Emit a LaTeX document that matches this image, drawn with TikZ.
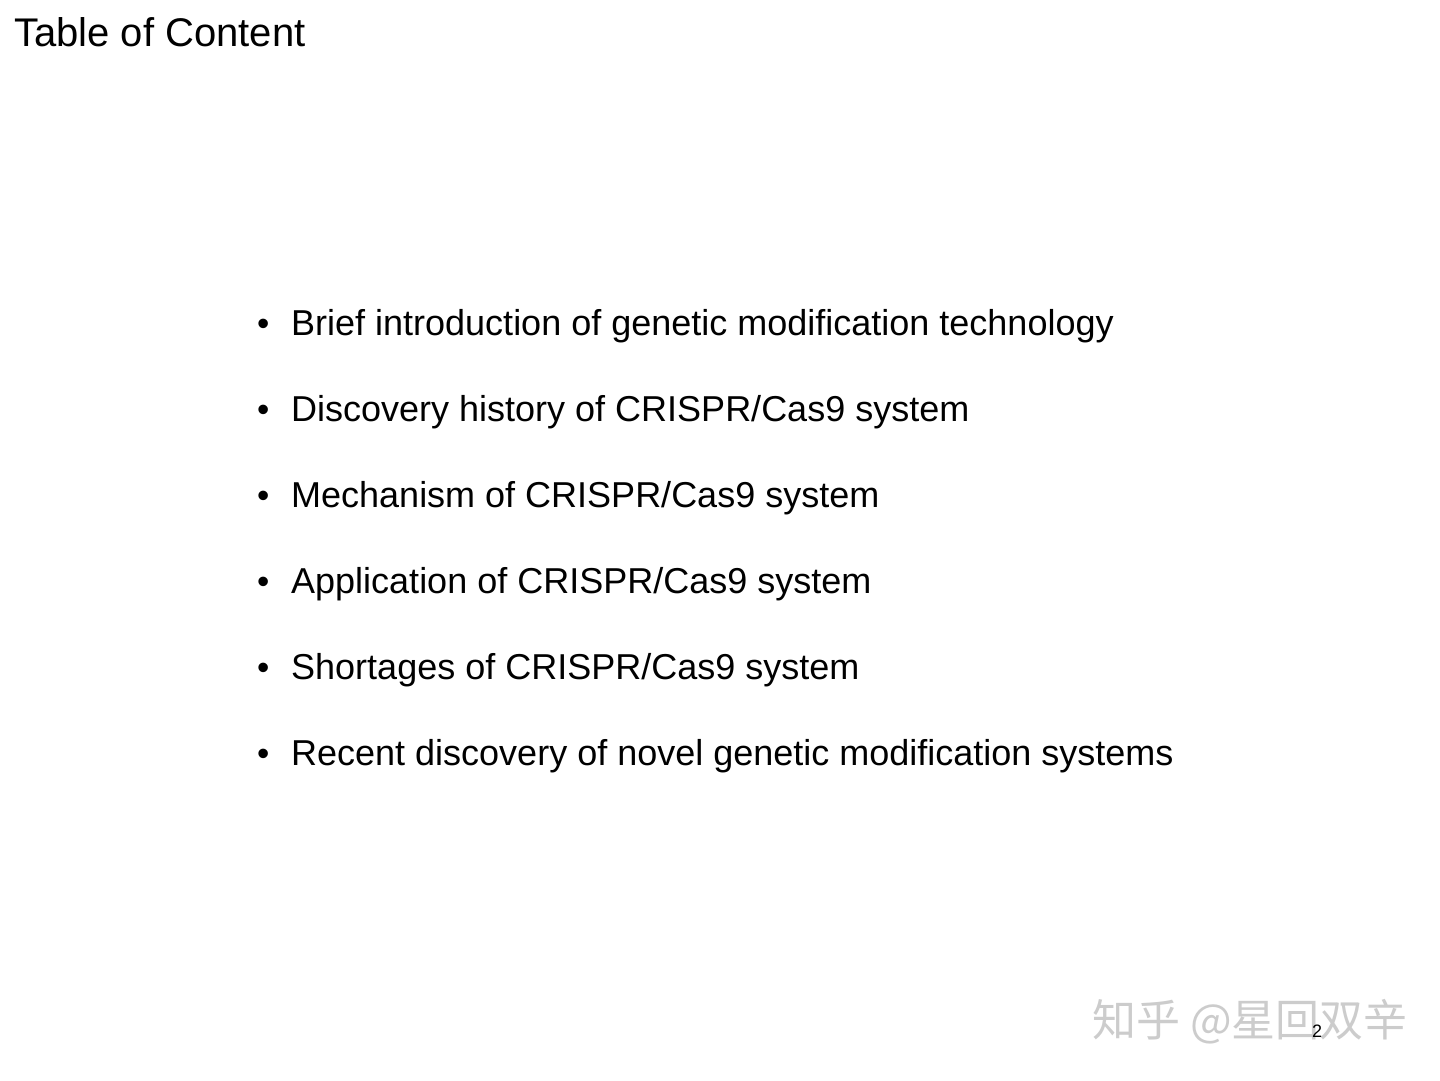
\documentclass[tikz,border=0pt]{standalone}
\usepackage{fontspec}
\setmainfont{Liberation Sans}
\newfontfamily\cjk{Noto Sans CJK SC}
\begin{document}
\begin{tikzpicture}[x=1pt,y=-1pt,
  item/.style={anchor=base west,inner sep=0pt,font=\fontsize{36}{40}\selectfont},
  bul/.style={anchor=base west,inner sep=0pt,font=\fontsize{35}{40}\selectfont}]
\useasboundingbox[fill=white] (0,0) rectangle (1440,1080);
\node[anchor=base west,inner sep=0pt,font=\fontsize{40}{44}\selectfont] (title) at (14,46) {Table of Content};
\foreach \t [count=\i] in {Brief introduction of genetic modification technology,
  Discovery history of CRISPR/Cas9 system,
  Mechanism of CRISPR/Cas9 system,
  Application of CRISPR/Cas9 system,
  Shortages of CRISPR/Cas9 system,
  Recent discovery of novel genetic modification systems}{
  \node[bul] (b\i) at (257,{335+86*(\i-1)}) {•};
  \node[item] (t\i) at (291,{335+86*(\i-1)}) {\t};
}
\node[anchor=base west,inner sep=0pt,text=black!20,font=\cjk\fontsize{44}{48}\selectfont] (wm) at (1092,1036) {知乎 @星回双辛};
\node[anchor=base west,inner sep=0pt,font=\fontsize{18}{20}\selectfont] (pg) at (1312,1037) {2};
\end{tikzpicture}
\end{document}
